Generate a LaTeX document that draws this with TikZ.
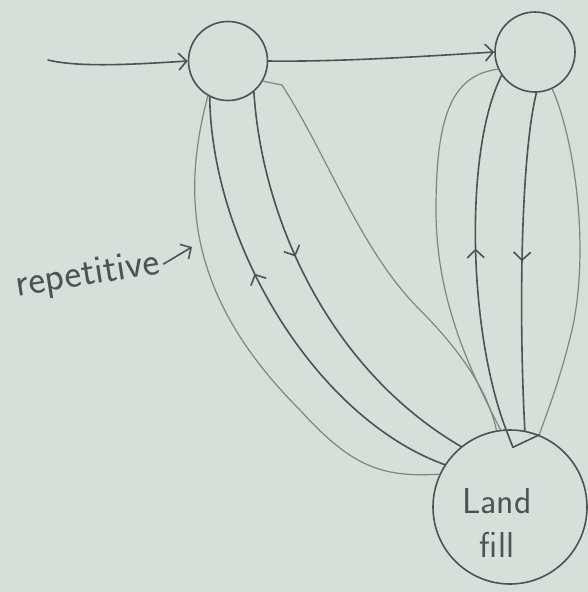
\documentclass[tikz,border=0pt]{standalone}
\usepackage{tikz}
\usetikzlibrary{arrows.meta,decorations.markings}

\definecolor{paper}{RGB}{216,222,218}
\definecolor{lead}{RGB}{74,84,80}
\definecolor{leadlight}{RGB}{125,135,130}

\begin{document}
\begin{tikzpicture}[
  x=1pt, y=-1pt,
  pen/.style={draw=lead, line width=1.6pt, line cap=round, line join=round},
  faintpen/.style={draw=leadlight, line width=1.2pt, line cap=round, line join=round},
  tip/.style={-{Straight Barb[length=8pt,width=17pt]}},
  midtip/.style={postaction={decorate}, decoration={markings,
    mark=at position #1 with {\arrow{Straight Barb[length=8pt,width=17pt]}}}},
  stage/.style={circle, pen, minimum size=#1, inner sep=0pt},
  hand/.style={font=\sffamily\fontsize{36}{44}\selectfont, text=lead},
]
\useasboundingbox (0,0) rectangle (588,592);
\fill[paper] (0,0) rectangle (588,592);

% stages
\node[stage=79pt] (stageA) at (228,61) {};
\node[stage=80pt] (stageB) at (535,52) {};
\node[stage=154pt] (landfill) at (510,507) {};
\node[hand, align=center] (lftext) at (497,523) {Land\\fill};
\node[hand, font=\sffamily\fontsize{40}{44}\selectfont, rotate=9] (rep) at (88,276) {repetitive};
\coordinate (entry) at (48,60);
\coordinate (hit) at (192,247);

% flow along the top
\draw[pen, tip] (entry) .. controls (80,68) and (140,64) .. (stageA.west);
\draw[pen, tip] (stageA.east) .. controls (340,62) and (430,56) .. (stageB.west);

% loop from the first stage
\draw[pen, midtip=0.6] (landfill.147) .. controls (320,420) and (212,250) .. (stageA.243);
\draw[pen, midtip=0.4] (stageA.310) .. controls (262,220) and (330,370) .. (landfill.129);
\draw[faintpen] (stageA.240) .. controls (180,200) and (190,300) .. (300,410)
  .. controls (350,465) and (380,478) .. (landfill.155);
\draw[faintpen] (stageA.330) -- (282,85) .. controls (330,160) and (360,250) .. (420,310)
  .. controls (470,360) and (490,400) .. (landfill.100);
\draw[pen, tip] (rep.east) -- (hit);

% loop from the second stage
\draw[pen, midtip=0.51] (landfill.93) .. controls (468,330) and (464,150) .. (stageB.215);
\draw[pen, midtip=0.5] (stageB.272) .. controls (522,150) and (518,300) .. (landfill.79);
\draw[faintpen] (stageB.205) .. controls (450,75) and (436,120) .. (436,210)
  .. controls (436,300) and (470,370) .. (landfill.97);
\draw[faintpen] (stageB.295) .. controls (575,140) and (590,250) .. (572,330)
  .. controls (560,380) and (548,410) .. (landfill.68);
\draw[pen] (landfill.93) -- ++(7,18) -- (landfill.68);
\end{tikzpicture}
\end{document}
